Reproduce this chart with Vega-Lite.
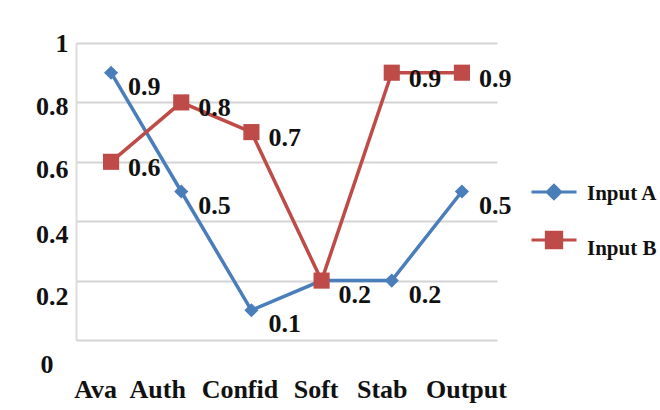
{
  "$schema": "https://vega.github.io/schema/vega-lite/v6.json",
  "width": 421,
  "height": 297,
  "autosize": {"type": "none"},
  "padding": {"left": 76, "top": 43, "right": 163, "bottom": 70},
  "background": "white",
  "config": {
    "view": {"stroke": null},
    "font": "Liberation Serif"
  },
  "data": {
    "values": [
      {"metric": "Ava", "series": "Input A", "score": 0.9},
      {"metric": "Auth", "series": "Input A", "score": 0.5},
      {"metric": "Confid", "series": "Input A", "score": 0.1},
      {"metric": "Soft", "series": "Input A", "score": 0.2},
      {"metric": "Stab", "series": "Input A", "score": 0.2},
      {"metric": "Output", "series": "Input A", "score": 0.5},
      {"metric": "Ava", "series": "Input B", "score": 0.6},
      {"metric": "Auth", "series": "Input B", "score": 0.8},
      {"metric": "Confid", "series": "Input B", "score": 0.7},
      {"metric": "Soft", "series": "Input B", "score": 0.2},
      {"metric": "Stab", "series": "Input B", "score": 0.9},
      {"metric": "Output", "series": "Input B", "score": 0.9}
    ]
  },
  "encoding": {
    "x": {
      "field": "metric",
      "type": "nominal",
      "sort": ["Ava", "Auth", "Confid", "Soft", "Stab", "Output"],
      "scale": {"type": "point", "padding": 0.5},
      "axis": {
        "title": null,
        "labelAngle": 0,
        "domain": false,
        "ticks": false,
        "grid": false,
        "labelPadding": 36,
        "labelBaseline": "top",
        "labelOffset": {
          "condition": [
            {"test": "datum.value === 'Ava'", "value": -16},
            {"test": "datum.value === 'Auth'", "value": -24},
            {"test": "datum.value === 'Confid'", "value": -12},
            {"test": "datum.value === 'Soft'", "value": -6},
            {"test": "datum.value === 'Stab'", "value": -10}
          ],
          "value": 4
        },
        "labelFont": "Liberation Serif",
        "labelFontSize": 26,
        "labelFontWeight": "bold",
        "labelColor": "#111111"
      }
    },
    "y": {
      "field": "score",
      "type": "quantitative",
      "scale": {"domain": [0, 1]},
      "axis": {
        "title": null,
        "values": [0, 0.2, 0.4, 0.6, 0.8, 1],
        "format": "~g",
        "domain": true,
        "domainColor": "#dcdcdc",
        "domainWidth": 2,
        "ticks": false,
        "grid": true,
        "gridColor": "#d4d4d4",
        "gridWidth": 2,
        "labelPadding": {
          "condition": {"test": "datum.value < 0.1", "value": 23},
          "value": 8
        },
        "labelOffset": {
          "condition": [
            {"test": "datum.value > 0.9", "value": 0},
            {"test": "datum.value > 0.7", "value": 4},
            {"test": "datum.value > 0.5", "value": 8},
            {"test": "datum.value > 0.3", "value": 13},
            {"test": "datum.value > 0.1", "value": 16}
          ],
          "value": 24
        },
        "labelFont": "Liberation Serif",
        "labelFontSize": 26,
        "labelFontWeight": "bold",
        "labelColor": "#111111"
      }
    },
    "color": {
      "field": "series",
      "type": "nominal",
      "scale": {"domain": ["Input A", "Input B"], "range": ["#4a7ebb", "#be4b48"]},
      "legend": {
        "title": null,
        "orient": "none",
        "legendX": 454,
        "legendY": 125,
        "padding": 0,
        "symbolSize": 2025,
        "symbolStrokeWidth": 3,
        "rowPadding": 11,
        "labelFont": "Liberation Serif",
        "labelFontSize": 21,
        "labelFontWeight": "bold",
        "labelColor": "#111111",
        "labelOffset": 9,
        "encode": {
          "symbols": {
            "update": {
              "shape": {"signal": "datum.value === 'Input A' ? 'M-1,0H1M-0.3,0L0,-0.3L0.3,0L0,0.3Z' : 'M-1,0H1M-0.34,-0.34H0.34V0.34H-0.34Z'"},
              "fill": {"signal": "datum.value === 'Input A' ? '#4a7ebb' : '#be4b48'"},
              "stroke": {"signal": "datum.value === 'Input A' ? '#4a7ebb' : '#be4b48'"},
              "strokeWidth": {"value": 3},
              "opacity": {"value": 1}
            }
          },
          "labels": {
            "update": {
              "dy": {"signal": "datum.value === 'Input B' ? 9 : 2"}
            }
          }
        }
      }
    }
  },
  "layer": [
    {
      "mark": {"type": "line", "strokeWidth": 3.5}
    },
    {
      "transform": [{"filter": "datum.series === 'Input A'"}],
      "mark": {"type": "point", "shape": "diamond", "size": 200, "filled": true, "opacity": 1}
    },
    {
      "transform": [{"filter": "datum.series === 'Input B'"}],
      "mark": {"type": "point", "shape": "square", "size": 260, "filled": true, "opacity": 1}
    },
    {
      "transform": [{"filter": "datum.series === 'Input A'"}],
      "mark": {"type": "text", "align": "left", "baseline": "middle", "dx": 17, "dy": 14, "font": "Liberation Serif", "fontSize": 26, "fontWeight": "bold"},
      "encoding": {
        "text": {"field": "score", "type": "quantitative", "format": ".1f"},
        "color": {"value": "#111111"}
      }
    },
    {
      "transform": [{"filter": "datum.series === 'Input B' && datum.metric !== 'Soft'"}],
      "mark": {"type": "text", "align": "left", "baseline": "middle", "dx": 17, "dy": 6, "font": "Liberation Serif", "fontSize": 26, "fontWeight": "bold"},
      "encoding": {
        "text": {"field": "score", "type": "quantitative", "format": ".1f"},
        "color": {"value": "#111111"}
      }
    }
  ]
}
